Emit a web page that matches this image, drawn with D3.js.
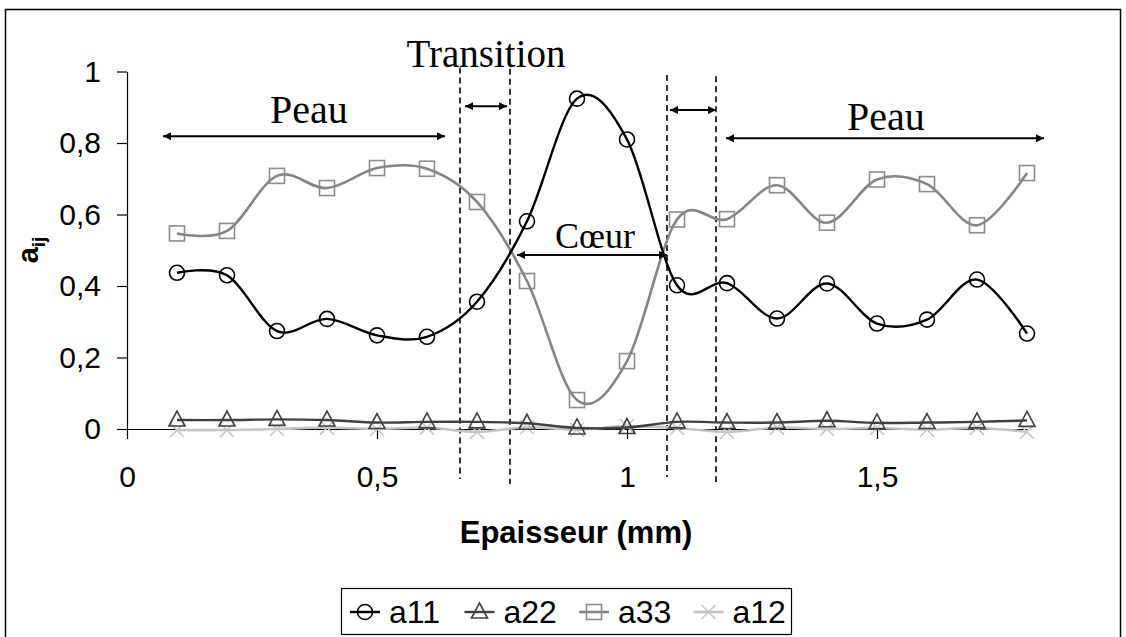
<!DOCTYPE html>
<html>
<head>
<meta charset="utf-8">
<script src="https://cdn.jsdelivr.net/npm/d3@7"></script>
<style>
  body { margin: 0; background: #fff; }
  svg { display: block; }
</style>
</head>
<body>
<svg id="chart" width="1126" height="637"></svg>
<script>
// thickness positions (mm)
var epaisseur = [0.1, 0.2, 0.3, 0.4, 0.5, 0.6, 0.7, 0.8, 0.9, 1.0, 1.1, 1.2, 1.3, 1.4, 1.5, 1.6, 1.7, 1.8];
var a11 = [0.437, 0.430, 0.274, 0.308, 0.262, 0.258, 0.356, 0.581, 0.924, 0.810, 0.402, 0.408, 0.309, 0.407, 0.295, 0.306, 0.418, 0.267];
var a22 = [0.025, 0.025, 0.027, 0.025, 0.018, 0.020, 0.020, 0.016, 0.003, 0.004, 0.020, 0.018, 0.018, 0.023, 0.017, 0.018, 0.020, 0.024];
var a33 = [0.547, 0.554, 0.708, 0.674, 0.730, 0.728, 0.635, 0.414, 0.081, 0.190, 0.586, 0.587, 0.682, 0.577, 0.698, 0.685, 0.570, 0.716];
var a12 = [-0.003, -0.003, 0.000, 0.004, 0.000, 0.004, -0.008, 0.005, -0.002, 0.008, 0.003, -0.008, 0.004, 0.000, 0.003, -0.002, 0.003, -0.008];
var seriesNames = ["a11", "a22", "a33", "a12"];
var yTicks = [0, 0.2, 0.4, 0.6, 0.8, 1];
var xTicks = [0, 0.5, 1, 1.5];

// zone annotations, in data units
var zoneLines = [[0.666, 1.011, -0.140], [0.766, 1.008, -0.154], [1.080, 0.990, -0.134], [1.178, 0.987, -0.148]];
var zoneArrows = [[0.072, 0.636, 0.819], [0.676, 0.760, 0.903], [1.086, 1.178, 0.892], [0.780, 1.080, 0.487], [1.198, 1.834, 0.813]];
var zoneLabels = [["Peau", 0.364, 0.856], ["Transition", 0.718, 1.013], ["Cœur", 0.936, 0.506], ["Peau", 1.518, 0.836]];

var svg = d3.select("#chart");
var x = d3.scaleLinear().domain([0, 1.8]).range([127, 1027]);
var y = d3.scaleLinear().domain([0, 1]).range([429, 71.5]);

// outer frame
svg.append("rect").attr("x", 5.5).attr("y", 9.5).attr("width", 1115).attr("height", 640)
    .style("fill", "none").style("stroke", "#000").style("stroke-width", "1.5px");

var defs = svg.append("defs");
defs.append("marker").attr("id", "head").attr("viewBox", "0 0 10 10")
    .attr("refX", 10).attr("refY", 5).attr("markerWidth", 10).attr("markerHeight", 8)
    .attr("markerUnits", "userSpaceOnUse").attr("orient", "auto-start-reverse")
    .append("path").attr("d", "M0,0 L10,5 L0,10 z").style("fill", "#000");

// axes
var yAxis = svg.append("g").attr("transform", "translate(127,0)")
    .call(d3.axisLeft(y).tickValues(yTicks).tickSize(10).tickSizeOuter(0).tickPadding(16)
        .tickFormat(function(d){ return d3.format("")(d).replace(".", ","); }));
var xAxis = svg.append("g").attr("transform", "translate(0,429)")
    .call(d3.axisBottom(x).tickValues(xTicks).tickSize(10).tickSizeOuter(0).tickPadding(27)
        .tickFormat(function(d){ return String(d).replace(".", ","); }));
[yAxis, xAxis].forEach(function(ax){
    ax.select(".domain").style("stroke", "#000").style("stroke-width", "1.2px");
    ax.selectAll(".tick line").style("stroke", "#000").style("stroke-width", "1.2px");
    ax.selectAll("text").style("font-family", "'Liberation Sans', Arial, sans-serif")
        .style("font-size", "30px").style("fill", "#000");
});

// axis titles
svg.append("text").attr("x", 576).attr("y", 543).attr("text-anchor", "middle")
    .style("font-family", "'Liberation Sans', Arial, sans-serif").style("font-weight", "bold")
    .style("font-size", "31px").text("Epaisseur (mm)");
var yt = svg.append("text").attr("transform", "translate(38,250) rotate(-90)").attr("text-anchor", "middle")
    .style("font-family", "'Liberation Sans', Arial, sans-serif").style("font-weight", "bold").style("font-size", "29px");
yt.append("tspan").text("a");
yt.append("tspan").attr("dy", 7).style("font-size", "19px").text("ij");

// zone dashed lines
zoneLines.forEach(function(z){
    svg.append("line").attr("x1", x(z[0])).attr("x2", x(z[0])).attr("y1", y(z[1])).attr("y2", y(z[2]))
        .style("stroke", "#000").style("stroke-width", "1.6px").style("stroke-dasharray", "6,4");
});

// series
var styles = {
    a11: { data: a11, color: "#000000", width: 2.4, mcolor: "#000000", shape: "circle" },
    a22: { data: a22, color: "#404040", width: 2.4, mcolor: "#404040", shape: "triangle" },
    a33: { data: a33, color: "#858585", width: 2.6, mcolor: "#8c8c8c", shape: "square" },
    a12: { data: a12, color: "#c4c4c4", width: 2.6, mcolor: "#c8c8c8", shape: "cross" }
};
var line = d3.line().x(function(d){ return x(d[0]); }).y(function(d){ return y(d[1]); })
    .curve(d3.curveCatmullRom.alpha(0));

function drawMarker(g, shape, cx, cy, color){
    var m;
    if (shape === "circle") {
        m = g.append("circle").attr("cx", cx).attr("cy", cy).attr("r", 7.5);
    } else if (shape === "square") {
        m = g.append("rect").attr("x", cx - 7.5).attr("y", cy - 7.5).attr("width", 15).attr("height", 15);
    } else if (shape === "triangle") {
        m = g.append("path").attr("d", "M" + cx + "," + (cy - 9) + " L" + (cx + 8) + "," + (cy + 6) + " L" + (cx - 8) + "," + (cy + 6) + " Z");
    } else {
        m = g.append("path").attr("d", "M" + (cx - 7) + "," + (cy - 7) + " L" + (cx + 7) + "," + (cy + 7) + " M" + (cx - 7) + "," + (cy + 7) + " L" + (cx + 7) + "," + (cy - 7));
    }
    m.style("fill", "none").style("stroke", color).style("stroke-width", "1.6px");
}

["a12", "a22", "a33", "a11"].forEach(function(name){
    var s = styles[name];
    var pts = epaisseur.map(function(e, i){ return [e, s.data[i]]; });
    var g = svg.append("g");
    g.append("path").datum(pts).attr("d", line)
        .style("fill", "none").style("stroke", s.color).style("stroke-width", s.width + "px");
    pts.forEach(function(p){ drawMarker(g, s.shape, x(p[0]), y(p[1]), s.mcolor); });
});

// zone arrows and labels
zoneArrows.forEach(function(a){
    svg.append("line").attr("x1", x(a[0])).attr("x2", x(a[1])).attr("y1", y(a[2])).attr("y2", y(a[2]))
        .style("stroke", "#000").style("stroke-width", "2px")
        .attr("marker-start", "url(#head)").attr("marker-end", "url(#head)");
});
zoneLabels.forEach(function(l){
    svg.append("text").attr("x", x(l[1])).attr("y", y(l[2])).attr("text-anchor", "middle")
        .style("font-family", "'Liberation Serif', 'Times New Roman', serif")
        .style("font-size", l[0] === "Cœur" ? "36px" : (l[0] === "Peau" ? "40px" : "39px"))
        .style("fill", "#000").text(l[0]);
});

// legend
var leg = svg.append("g");
leg.append("rect").attr("x", 341.5).attr("y", 588.5).attr("width", 450).attr("height", 46)
    .style("fill", "#fff").style("stroke", "#000").style("stroke-width", "1.2px");
seriesNames.forEach(function(name, i){
    var s = styles[name];
    var lx = 350 + i * 114.5, ly = 612;
    leg.append("line").attr("x1", lx).attr("x2", lx + 30).attr("y1", ly).attr("y2", ly)
        .style("stroke", s.color).style("stroke-width", s.width + "px");
    drawMarker(leg, s.shape, lx + 15, ly, s.mcolor);
    leg.append("text").attr("x", lx + 39).attr("y", ly + 11)
        .style("font-family", "'Liberation Sans', Arial, sans-serif").style("font-size", "32px")
        .style("fill", "#000").text(name);
});
</script>
</body>
</html>
